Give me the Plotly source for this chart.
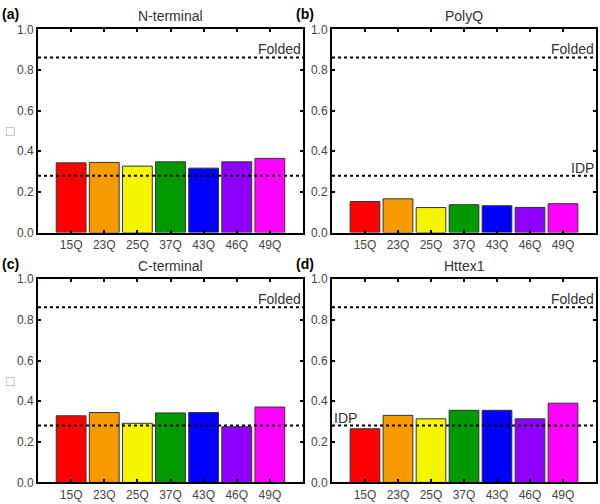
import plotly.graph_objects as go

categories = ["15Q", "23Q", "25Q", "37Q", "43Q", "46Q", "49Q"]
n_terminal = [0.343, 0.345, 0.327, 0.348, 0.317, 0.348, 0.365]
polyq = [0.153, 0.166, 0.123, 0.137, 0.132, 0.124, 0.142]
c_terminal = [0.328, 0.344, 0.291, 0.342, 0.344, 0.274, 0.371]
httex1 = [0.264, 0.330, 0.313, 0.355, 0.355, 0.313, 0.390]
panel_titles = ["N-terminal", "PolyQ", "C-terminal", "Httex1"]
panel_letters = ["(a)", "(b)", "(c)", "(d)"]
folded_level = 0.862
idp_level = 0.28
y_ticks = [0.0, 0.2, 0.4, 0.6, 0.8, 1.0]

bar_colors = ["#ff0000", "#f59b00", "#f5f500", "#009a00", "#0000ff", "#8f00ff", "#ff00ff"]

W, H = 600, 504
# panel pixel boxes: (left, right, top, bottom)
boxes = [(38, 303, 23, 232), (332, 596, 23, 232), (38, 303, 280, 489), (332, 596, 280, 489)]
series = [n_terminal, polyq, c_terminal, httex1]
idp_label = [None, "right", None, "left"]

fig = go.Figure()
layout = dict(width=W, height=H, margin=dict(l=0, r=0, t=0, b=0),
              paper_bgcolor="white", plot_bgcolor="white", showlegend=False,
              font=dict(family="Liberation Sans, Arial, sans-serif", color="#444"))
shapes = []
annotations = []
axis_font = dict(family="Liberation Sans, Arial, sans-serif", size=12, color="#444")

for i, (vals, box) in enumerate(zip(series, boxes)):
    l, r, t, b = box
    xs = "x" if i == 0 else f"x{i+1}"
    ys = "y" if i == 0 else f"y{i+1}"
    xk = "xaxis" if i == 0 else f"xaxis{i+1}"
    yk = "yaxis" if i == 0 else f"yaxis{i+1}"
    fig.add_trace(go.Bar(x=categories, y=vals, xaxis=xs, yaxis=ys, width=0.9,
                         marker=dict(color=bar_colors, line=dict(color="#333", width=1))))
    layout[xk] = dict(domain=[l / W, r / W], anchor=ys, range=[-1, 7], type="category",
                      showline=True, linecolor="black", linewidth=2, mirror="ticks",
                      ticks="inside", ticklen=3, tickwidth=2, tickcolor="black",
                      tickfont=axis_font, showgrid=False, zeroline=False, fixedrange=True)
    layout[yk] = dict(domain=[1 - b / H, 1 - t / H], anchor=xs, range=[0, 1.0],
                      tickvals=y_ticks, ticktext=[f"{v:.1f}" for v in y_ticks],
                      showline=True, linecolor="black", linewidth=2, mirror="ticks",
                      ticks="inside", ticklen=3, tickwidth=2, tickcolor="black",
                      tickfont=axis_font, showgrid=False, zeroline=False, fixedrange=True)
    xd = f"{xs} domain"
    for lvl in (folded_level, idp_level):
        shapes.append(dict(type="line", xref=xd, yref=ys, x0=0, x1=1, y0=lvl, y1=lvl,
                           line=dict(color="black", width=2, dash="dot")))
    annotations.append(dict(text="Folded", xref=xd, yref=ys, x=1, y=folded_level,
                            xanchor="right", yanchor="bottom", showarrow=False,
                            font=dict(size=14, color="#333"), yshift=-2))
    if idp_label[i] == "right":
        annotations.append(dict(text="IDP", xref=xd, yref=ys, x=1, y=idp_level,
                                xanchor="right", yanchor="bottom", showarrow=False,
                                font=dict(size=14, color="#333"), yshift=-2))
    elif idp_label[i] == "left":
        annotations.append(dict(text="IDP", xref=xd, yref=ys, x=0, y=idp_level,
                                xanchor="left", yanchor="bottom", showarrow=False,
                                font=dict(size=14, color="#333"), yshift=-2))
    annotations.append(dict(text=panel_titles[i], xref="paper", yref="paper",
                            x=(l + r) / 2 / W, y=1 - (t - 3) / H, xanchor="center", yanchor="bottom",
                            showarrow=False, font=dict(size=14, color="#333")))
    annotations.append(dict(text=f"<b>{panel_letters[i]}</b>", xref="paper", yref="paper",
                            x=(l - 38) / W, y=1 - (t - 16) / H, xanchor="left", yanchor="middle",
                            showarrow=False, font=dict(size=14, color="black")))
    if i in (0, 2):
        annotations.append(dict(text="□", xref="paper", yref="paper",
                                x=10 / W, y=1 - (t + 105) / H, xanchor="center", yanchor="middle",
                                showarrow=False, font=dict(size=14, color="#999")))

layout["shapes"] = shapes
layout["annotations"] = annotations
layout["bargap"] = 0.1
fig.update_layout(**layout)
fig.write_html("out.html", config={"displayModeBar": False},
               post_script="document.body.style.margin='0px';")
